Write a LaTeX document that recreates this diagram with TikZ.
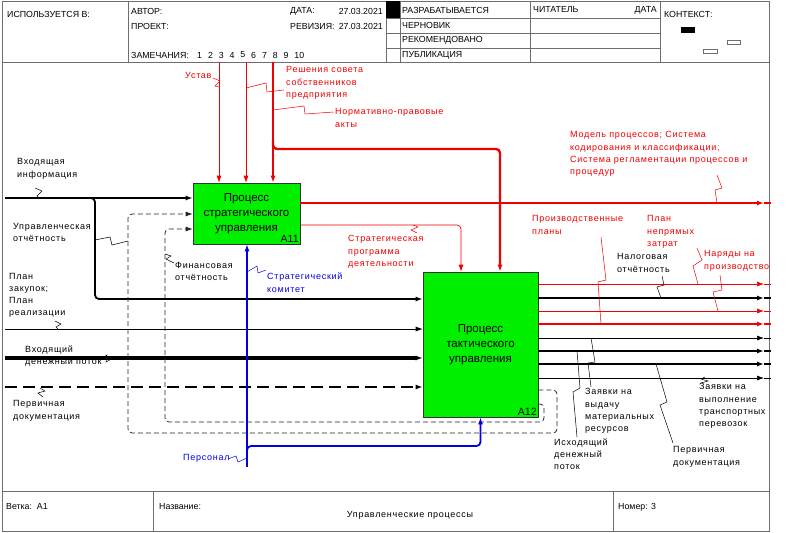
\documentclass[tikz,border=0pt]{standalone}
\usepackage{fontspec}
\setmainfont{Liberation Sans}
\newfontfamily\lblfont[LetterSpace=8]{Liberation Sans}
\usepackage{xcolor}
\definecolor{idefred}{RGB}{240,0,0}
\definecolor{idefblue}{RGB}{0,0,225}
\definecolor{idefgreen}{RGB}{0,240,0}
\definecolor{framegray}{RGB}{110,110,110}
\usepackage{tikz}
\usetikzlibrary{positioning, arrows.meta, calc}
\tikzstyle{frame} = [draw=framegray, line width=0.8pt]
\tikzstyle{hdr} = [anchor=west, inner sep=0pt, font=\fontsize{8.8}{10}\selectfont]
\tikzstyle{func} = [
    rectangle, align=center,
    draw=black!80, fill=idefgreen,
    line width=0.6pt,
    font=\fontsize{11.5}{15}\selectfont,
]
\tikzstyle{boxnum} = [anchor=south east, inner sep=1.5pt, font=\fontsize{10.5}{12}\selectfont]
\tikzstyle{lbl} = [anchor=north west, inner sep=0pt, align=left, font=\lblfont\fontsize{9}{12.2}\selectfont]
\tikzstyle{arrow} = [-{Latex[length=7pt,width=5pt]}]
\tikzstyle{slim} = [line width=0.7pt]
\tikzstyle{bold} = [line width=1.8pt]
\tikzstyle{heavy} = [line width=3.8pt]
\tikzstyle{redslim} = [slim, draw=idefred]
\tikzstyle{redbold} = [bold, draw=idefred]
\tikzstyle{blackslim} = [slim, draw=black]
\tikzstyle{blackbold} = [bold, draw=black]
\tikzstyle{mech} = [bold, draw=idefblue]
\tikzstyle{feedback} = [line width=0.8pt, draw=black!85, dash pattern=on 5pt off 3pt, rounded corners=4pt]
\tikzstyle{squig} = [line width=0.5pt]

\begin{document}
\begin{tikzpicture}[x=1pt, y=-1pt]
    \useasboundingbox (0,0) rectangle (799,532);

    % form
    \draw[frame] (2,1) rectangle (769,531);
    \draw[frame] (2,62) -- (769,62);
    \draw[frame] (2,491) -- (769,491);
    \foreach \x in {128, 386, 400, 530, 660} \draw[frame] (\x,1) -- (\x,62);
    \foreach \y in {18, 33, 48} \draw[frame] (386,\y) -- (660,\y);
    \foreach \x in {153, 613} \draw[frame] (\x,491) -- (\x,531);
    \fill (386,1) rectangle (400,18);
    \fill (681,27) rectangle (695,33);
    \draw[framegray, line width=0.6pt] (727,40) rectangle (740,44) (703,49) rectangle (717,53);

    \node (usedin) [hdr] at (7,14) {ИСПОЛЬЗУЕТСЯ В:};
    \node (author) [hdr] at (131,11) {АВТОР:};
    \node (project) [hdr] at (131,26) {ПРОЕКТ:};
    \node (notes) [hdr] at (131,55) {ЗАМЕЧАНИЯ:};
    \foreach \n in {1,...,10} \node (note\n) [hdr] at (186.2+10.8*\n, 55) {\n};
    \node (date) [hdr] at (290,11) {ДАТА:};
    \node (dateval) [hdr, anchor=east] at (383,11) {27.03.2021};
    \node (rev) [hdr] at (290,26) {РЕВИЗИЯ:};
    \node (revval) [hdr, anchor=east] at (383,26) {27.03.2021};
    \foreach \st [count=\i] in {РАЗРАБАТЫВАЕТСЯ, ЧЕРНОВИК, РЕКОМЕНДОВАНО, ПУБЛИКАЦИЯ}
        \node (status\i) [hdr] at (402, -5+15*\i) {\st};
    \node (reader) [hdr] at (533,10) {ЧИТАТЕЛЬ};
    \node (readerdate) [hdr, anchor=east] at (657,10) {ДАТА};
    \node (context) [hdr] at (664,14) {КОНТЕКСТ:};
    \node (branch) [hdr] at (6,507) {Ветка:\ \ A1};
    \node (titlelbl) [hdr] at (159,507) {Название:};
    \node (title) [hdr, anchor=center, font=\lblfont\fontsize{9}{10}\selectfont] at (410,515) {Управленческие процессы};
    \node (number) [hdr] at (618,507) {Номер: 3};

    % boxes
    \node (a11) at (246.5,213.5) [func, minimum width=107pt, minimum height=61pt] {Процесс\\стратегического\\управления};
    \node (a12) at (480.5,344.5) [func, minimum width=115pt, minimum height=145pt] {Процесс\\тактического\\управления};
    \node (a11num) [boxnum] at (a11.south east) {A11};
    \node (a12num) [boxnum] at (a12.south east) {A12};

    % controls
    \coordinate (topU) at (219,62);
    \coordinate (topR) at (246,62);
    \coordinate (topN) at (273,62);
    \coordinate (rb) at (764,0);
    \coordinate (re) at (771,0);
    \draw[redslim, arrow] (topU) -- (topU |- a11.north);
    \draw[redslim, arrow] (topR) -- (topR |- a11.north);
    \draw[redbold, line width=2.4pt, arrow] (topN) -- (topN |- a11.north);
    \draw[redbold, line width=2.4pt, arrow, rounded corners=4pt] (273,140) -- (273,149) -- (500,149) -- (500,0 |- a12.north);

    % outputs of A11
    \draw[redbold, line width=2.6pt, arrow] (a11.east |- 0,203) -- (rb |- 0,203);
    \draw[redbold, line width=2.6pt] (rb |- 0,203) -- (re |- 0,203);
    \draw[redslim, arrow, rounded corners=4pt] (a11.east |- 0,225) -- (461,225) -- (461,0 |- a12.north);

    % inputs
    \draw[blackbold, arrow] (5,198) -- (5,198 -| a11.west);
    \draw[blackbold, arrow, rounded corners=4pt] (85,198) -- (95,198) -- (95,299) -- (95,299 -| a12.west);
    \draw[blackslim, arrow] (5,329) -- (5,329 -| a12.west);
    \draw[heavy, arrow] (5,358) -- (5,358 -| a12.west);
    \draw[line width=2pt, dash pattern=on 12pt off 6pt, arrow] (5,387) -- (5,387 -| a12.west);
    \draw[feedback, arrow] (a12.east |- 0,390) -- (557,390) -- (557,433) -- (128,433) -- (128,214) -- (128,214 -| a11.west);
    \draw[feedback, arrow] (a12.east |- 0,404) -- (544,404) -- (544,422) -- (165,422) -- (165,229) -- (165,229 -| a11.west);

    % mechanisms
    \coordinate (pers) at (247,467);
    \draw[mech, arrow] (pers) -- (pers |- a11.south);
    \draw[mech, arrow, rounded corners=4pt] (247,455) -- (247,446) -- (a12.south |- 0,446) -- (a12.south);

    % outputs of A12
    \foreach \y/\st in {284/redslim, 298/blackbold, 311/redslim, 324/redbold, 338/blackslim, 351/blackbold, 364/blackbold, 378/blackslim} {
        \draw[\st, arrow] (a12.east |- 0,\y) -- (rb |- 0,\y);
        \draw[\st] (rb |- 0,\y) -- (re |- 0,\y);
    }

    % labels
    \node (lUstav) [lbl, idefred] at (185,72.5) {Устав};
    \node (lResh) [lbl, idefred] at (286,66.5) {Решения совета\\собственников\\предприятия};
    \node (lNorm) [lbl, idefred] at (335,108.5) {Нормативно-правовые\\акты};
    \node (lModel) [lbl, idefred] at (570,131.5) {Модель процессов; Система\\кодирования и классификации;\\Система регламентации процессов и\\процедур};
    \node (lStrProg) [lbl, idefred] at (348,235.5) {Стратегическая\\программа\\деятельности};
    \node (lProizv) [lbl, idefred] at (532,215.5) {Производственные\\планы};
    \node (lNepr) [lbl, idefred] at (647,215.5) {План\\непрямых\\затрат};
    \node (lNaryad) [lbl, idefred] at (704,250.5) {Наряды на\\производство};
    \node (lVxInf) [lbl] at (17,158.5) {Входящая\\информация};
    \node (lUprOt) [lbl] at (13,223) {Управленческая\\отчётность};
    \node (lFinOt) [lbl] at (175,262) {Финансовая\\отчётность};
    \node (lPlan) [lbl] at (9,273) {План\\закупок;\\План\\реализации};
    \node (lVxDen) [lbl] at (25,345.5) {Входящий\\денежный поток};
    \node (lPervIn) [lbl] at (13,400.5) {Первичная\\документация};
    \node (lKomit) [lbl, idefblue] at (267,273) {Стратегический\\комитет};
    \node (lPers) [lbl, idefblue] at (183,454.5) {Персонал};
    \node (lNalog) [lbl] at (617,253.5) {Налоговая\\отчётность};
    \node (lZayavMat) [lbl] at (585,388.5) {Заявки на\\выдачу\\материальных\\ресурсов};
    \node (lIsxDen) [lbl] at (554,438.5) {Исходящий\\денежный\\поток};
    \node (lPervOut) [lbl] at (673,446.5) {Первичная\\документация};
    \node (lZayavTr) [lbl] at (699,383.5) {Заявки на\\выполнение\\транспортных\\перевозок};

    % squiggles
    \draw[squig, idefred] (213,78) -- (220,81) -- (215,86) -- (219,87);
    \draw[squig, idefred] (246,88) -- (266,83) -- (267,92) -- (284,90);
    \draw[squig, idefred] (273,110) -- (304,106) -- (305,114) -- (334,112);
    \draw[squig, idefred] (717,175) -- (722,188) -- (715,190) -- (717,203);
    \draw[squig, idefred] (413,225) -- (418,227) -- (411,230) -- (417,233);
    \draw[squig, idefred] (601,237) -- (606,280) -- (598,282) -- (601,324);
    \draw[squig, idefred] (697,248) -- (702,260) -- (693,266) -- (698,284);
    \draw[squig, idefred] (720,275) -- (722,290) -- (713,292) -- (718,311);
    \draw[squig] (35,188) -- (42,191) -- (37,196) -- (39,198);
    \draw[squig] (95,240) -- (110,237) -- (112,245) -- (128,241);
    \draw[squig] (165,254) -- (171,256) -- (166,259) -- (174,263);
    \draw[squig] (55,321) -- (61,324) -- (56,327) -- (58,329);
    \draw[squig] (100,360) -- (107,355) -- (106,362) -- (113,358);
    \draw[squig] (40,388) -- (45,391) -- (38,393) -- (43,397);
    \draw[squig] (662,276) -- (664,285) -- (657,287) -- (661,298);
    \draw[squig] (591,338) -- (595,362) -- (588,363) -- (591,387);
    \draw[squig] (577,351) -- (580,388) -- (573,392) -- (577,437);
    \draw[squig] (656,364) -- (667,402) -- (660,405) -- (673,443);
    \draw[squig] (701,383) -- (708,381) -- (701,379) -- (705,377);
    \draw[squig, idefblue] (247,272) -- (257,266) -- (258,273) -- (266,270);
    \draw[squig, idefblue] (228,459) -- (236,456) -- (238,462) -- (247,458);

\end{tikzpicture}
\end{document}
